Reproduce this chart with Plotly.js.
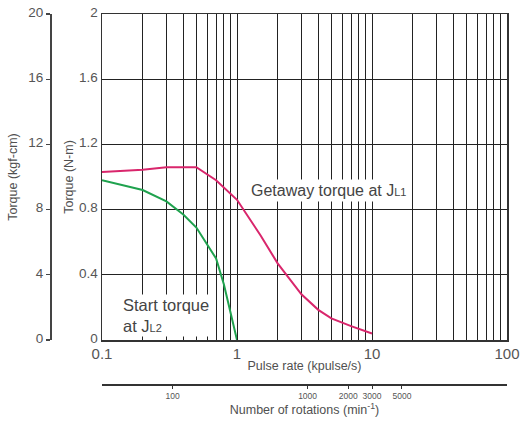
<!DOCTYPE html>
<html>
<head>
<meta charset="utf-8">
<script src="https://cdn.plot.ly/plotly-3.0.1.min.js"></script>
<style>html,body{margin:0;padding:0;background:#fff;}#chart{width:521px;height:422px;}</style>
</head>
<body>
<div id="chart"></div>
<script>
// Pulse rate (kpulse/s) vs torque (N-m)
const getawayRate   = [0.1, 0.2, 0.3, 0.5, 0.7, 1.0, 1.5, 2.0, 3.0, 4.0, 5.0, 7.0, 10.0];
const getawayTorque = [1.03, 1.045, 1.06, 1.06, 0.98, 0.86, 0.64, 0.47, 0.28, 0.185, 0.133, 0.085, 0.04];
const startRate     = [0.1, 0.2, 0.3, 0.4, 0.5, 0.6, 0.7, 0.8, 0.9, 1.0];
const startTorque   = [0.98, 0.92, 0.85, 0.77, 0.69, 0.59, 0.50, 0.34, 0.17, 0.0];

// Axis ticks
const pulseTickVals = [0.1,0.2,0.3,0.4,0.5,0.6,0.7,0.8,0.9,1,2,3,4,5,6,7,8,9,10,20,30,40,50,60,70,80,90,100];
const pulseTickText = pulseTickVals.map(v => [0.1,1,10,100].includes(v) ? String(v) : '');
const nmTickVals = [0, 0.4, 0.8, 1.2, 1.6, 2];
const nmTickText = ['0', '0.4', '0.8', '1.2', '1.6', '2'];
const kgfTickVals = [0, 4, 8, 12, 16, 20];
const rpmTickVals = [100, 1000, 2000, 3000, 5000];
const rpmTickText = ['100', '1000', '2000', '3000', '5000'];
const rpmPerKpps = 300;   // rotations (min^-1) per kpulse/s
const kgfPerNm = 10;      // scale of the kgf-cm axis against the N-m axis

const W = 521, H = 422;
const mL = 0, mR = 14, mT = 14, mB = 27;
const pw = W - mL - mR, ph = H - mT - mB;
const plotLeft = 102, plotBottom = 340, rpmAxisY = 384, kgfAxisX = 50;

const txt = '#505050';
const traces = [
  {x: getawayRate, y: getawayTorque, type: 'scatter', mode: 'lines', line: {color: '#d9266c', width: 2}, xaxis: 'x', yaxis: 'y', hoverinfo: 'skip'},
  {x: startRate, y: startTorque, type: 'scatter', mode: 'lines', line: {color: '#1fa24e', width: 2}, xaxis: 'x', yaxis: 'y', hoverinfo: 'skip'},
  // same curve in the secondary units, invisible: it only makes the rotation and kgf-cm axes appear
  {x: getawayRate.map(v => v * rpmPerKpps), y: getawayTorque.map(v => v * kgfPerNm), type: 'scatter', mode: 'lines',
   line: {color: 'rgba(0,0,0,0)', width: 0}, xaxis: 'x2', yaxis: 'y2', hoverinfo: 'skip'}
];

const layout = {
  width: W, height: H,
  margin: {l: mL, r: mR, t: mT, b: mB, pad: 0},
  paper_bgcolor: '#fff', plot_bgcolor: '#fff',
  showlegend: false,
  font: {family: 'Liberation Sans, Arial, sans-serif', color: txt},
  xaxis: {
    type: 'log', range: [-1, 2],
    domain: [(plotLeft - mL) / pw, 1],
    tickvals: pulseTickVals, ticktext: pulseTickText,
    ticks: 'inside', ticklen: 5, tickcolor: '#222', tickwidth: 1,
    showgrid: true, gridcolor: '#222', gridwidth: 1,
    showline: true, linecolor: '#333', linewidth: 1.5, mirror: true,
    tickfont: {size: 15, color: '#555'},
    ticklabelstandoff: -1,
    title: {text: 'Pulse rate (kpulse/s)', font: {size: 12.5, color: txt}, standoff: 0},
    zeroline: false, automargin: false
  },
  yaxis: {
    range: [0, 2],
    domain: [(H - mB - plotBottom) / ph, 1],
    tickvals: nmTickVals, ticktext: nmTickText,
    ticks: '', showgrid: true, gridcolor: '#222', gridwidth: 1,
    showline: true, linecolor: '#333', linewidth: 1.5, mirror: true,
    tickfont: {size: 13.5, color: '#555'},
    ticklabelshift: -2,
    title: {text: 'Torque (N-m)', font: {size: 12.5, color: txt}, standoff: 2},
    zeroline: false, automargin: false
  },
  yaxis2: {
    overlaying: 'y', anchor: 'free', side: 'left',
    position: (kgfAxisX - mL) / pw,
    range: [0, 20],
    tickvals: kgfTickVals,
    ticks: 'outside', ticklen: 4, tickcolor: '#444', tickwidth: 1.2,
    showgrid: false, showline: true, linecolor: '#444', linewidth: 1.5,
    tickfont: {size: 13.5, color: '#555'},
    ticklabelshift: -2,
    title: {text: 'Torque (kgf-cm)', font: {size: 12.5, color: txt}, standoff: 6},
    zeroline: false, automargin: false
  },
  xaxis2: {
    overlaying: 'x', anchor: 'free', side: 'bottom',
    position: (H - mB - rpmAxisY) / ph,
    domain: [(plotLeft - mL) / pw, 1],
    type: 'log',
    range: [Math.log10(0.1 * rpmPerKpps), Math.log10(100 * rpmPerKpps)],
    tickvals: rpmTickVals, ticktext: rpmTickText,
    ticks: 'outside', ticklen: 3, tickcolor: '#333', tickwidth: 1,
    showgrid: false, showline: true, linecolor: '#333', linewidth: 1.5,
    tickfont: {size: 8.5, color: '#555'},
    title: {text: 'Number of rotations (min<sup>-1</sup>)', font: {size: 12.5, color: txt}, standoff: 2},
    zeroline: false, automargin: false
  },
  annotations: [
    {xref: 'x', yref: 'y', x: Math.log10(1.206), y: 0.915, xanchor: 'left', yanchor: 'middle',
     text: 'Getaway torque at J<span style="font-size:11px">L1</span>', showarrow: false,
     font: {size: 16, color: '#444'}, bgcolor: '#fff', borderpad: 2, align: 'left'},
    {xref: 'x', yref: 'y', x: Math.log10(0.138), y: 0.15, xanchor: 'left', yanchor: 'middle',
     text: 'Start torque<br>at J<span style="font-size:11px">L2</span>', showarrow: false,
     font: {size: 16.5, color: '#444'}, bgcolor: '#fff', borderpad: 1, align: 'left'}
  ]
};

Plotly.newPlot('chart', traces, layout, {staticPlot: true, displayModeBar: false});
</script>
</body>
</html>
